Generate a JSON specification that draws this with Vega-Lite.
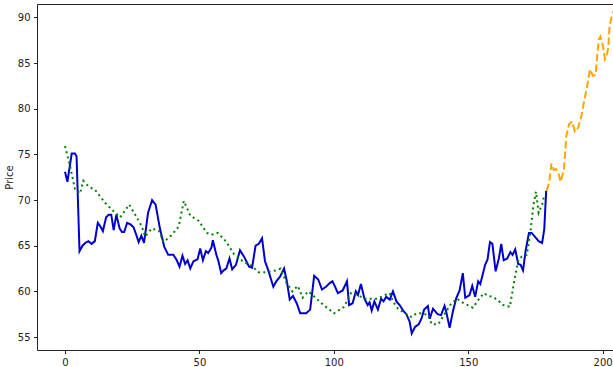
{
  "$schema": "https://vega.github.io/schema/vega-lite/v6.json",
  "autosize": "none",
  "width": 576,
  "height": 346,
  "padding": {"left": 37, "top": 4, "right": 0, "bottom": 17},
  "background": "white",
  "config": {
    "view": {"stroke": null},
    "axis": {
      "grid": false,
      "tickSize": 3.5,
      "tickColor": "#222",
      "domainColor": "#222",
      "labelFont": "DejaVu Sans",
      "labelFontSize": 10,
      "labelColor": "#222",
      "labelPadding": 3.5,
      "titleFont": "DejaVu Sans",
      "titleFontSize": 10,
      "titleFontWeight": "normal",
      "titleColor": "#222"
    }
  },
  "datasets": {
    "actual": [
      {"t": 0, "price": 73.1}, {"t": 0.9, "price": 72.0}, {"t": 2.5, "price": 75.1}, {"t": 3.7, "price": 75.1},
      {"t": 4.3, "price": 74.8}, {"t": 5.4, "price": 64.4}, {"t": 6.5, "price": 65.0}, {"t": 7.5, "price": 65.3},
      {"t": 8.7, "price": 65.5}, {"t": 9.9, "price": 65.2}, {"t": 11.1, "price": 65.5}, {"t": 12.2, "price": 67.5},
      {"t": 13.2, "price": 67.1}, {"t": 14.1, "price": 66.6}, {"t": 15.3, "price": 68.1}, {"t": 16.3, "price": 68.4},
      {"t": 17.2, "price": 68.4}, {"t": 18.1, "price": 66.7}, {"t": 19.1, "price": 68.4}, {"t": 20.3, "price": 66.9},
      {"t": 21.2, "price": 66.5}, {"t": 22.0, "price": 66.5}, {"t": 23.1, "price": 67.5}, {"t": 24.5, "price": 67.3},
      {"t": 25.5, "price": 67.0}, {"t": 26.5, "price": 66.2}, {"t": 27.4, "price": 65.4}, {"t": 28.4, "price": 66.1},
      {"t": 29.4, "price": 65.3}, {"t": 30.9, "price": 68.6}, {"t": 32.4, "price": 70.0}, {"t": 33.7, "price": 69.5},
      {"t": 35.3, "price": 66.9}, {"t": 36.9, "price": 64.9}, {"t": 38.4, "price": 64.0}, {"t": 40.3, "price": 64.0},
      {"t": 41.6, "price": 63.4}, {"t": 42.6, "price": 62.7}, {"t": 43.7, "price": 63.9}, {"t": 44.7, "price": 63.0},
      {"t": 45.6, "price": 63.4}, {"t": 46.6, "price": 62.5}, {"t": 47.8, "price": 63.3}, {"t": 49.3, "price": 63.5},
      {"t": 50.3, "price": 64.7}, {"t": 51.3, "price": 63.4}, {"t": 52.4, "price": 64.4}, {"t": 53.3, "price": 64.2},
      {"t": 54.5, "price": 64.8}, {"t": 55.0, "price": 65.6}, {"t": 56.3, "price": 64.0}, {"t": 57.0, "price": 63.4},
      {"t": 58.1, "price": 62.0}, {"t": 59.0, "price": 62.3}, {"t": 60.0, "price": 62.5}, {"t": 61.2, "price": 63.6},
      {"t": 62.2, "price": 62.4}, {"t": 63.6, "price": 62.9}, {"t": 65.1, "price": 64.5}, {"t": 66.6, "price": 63.8},
      {"t": 68.5, "price": 62.7}, {"t": 69.6, "price": 62.6}, {"t": 70.9, "price": 65.0}, {"t": 72.1, "price": 65.2},
      {"t": 73.3, "price": 65.8}, {"t": 74.4, "price": 63.3}, {"t": 75.5, "price": 62.4}, {"t": 77.5, "price": 60.5},
      {"t": 78.6, "price": 61.1}, {"t": 80.0, "price": 61.6}, {"t": 81.5, "price": 62.5}, {"t": 82.6, "price": 61.0},
      {"t": 83.6, "price": 59.1}, {"t": 84.8, "price": 59.5}, {"t": 86.2, "price": 58.7}, {"t": 87.5, "price": 57.6},
      {"t": 89.7, "price": 57.6}, {"t": 91.2, "price": 58.0}, {"t": 92.7, "price": 61.7}, {"t": 94.2, "price": 61.3},
      {"t": 95.6, "price": 60.2}, {"t": 97.1, "price": 60.5}, {"t": 98.5, "price": 60.9}, {"t": 99.5, "price": 61.1},
      {"t": 100.5, "price": 60.5}, {"t": 101.5, "price": 59.8}, {"t": 103.3, "price": 60.1}, {"t": 104.9, "price": 61.1},
      {"t": 105.7, "price": 58.5}, {"t": 107.0, "price": 58.7}, {"t": 108.2, "price": 60.0}, {"t": 109.0, "price": 59.6},
      {"t": 110.1, "price": 60.8}, {"t": 111.4, "price": 59.2}, {"t": 112.6, "price": 58.5}, {"t": 113.3, "price": 58.8},
      {"t": 114.1, "price": 57.9}, {"t": 115.1, "price": 58.9}, {"t": 116.4, "price": 58.0}, {"t": 117.6, "price": 59.2},
      {"t": 118.5, "price": 58.9}, {"t": 119.5, "price": 59.4}, {"t": 120.8, "price": 59.1}, {"t": 122.0, "price": 60.0},
      {"t": 123.3, "price": 58.9}, {"t": 124.5, "price": 58.5}, {"t": 125.8, "price": 57.9}, {"t": 127.0, "price": 57.5},
      {"t": 128.2, "price": 56.7}, {"t": 129.0, "price": 55.4}, {"t": 130.2, "price": 56.1}, {"t": 131.6, "price": 56.4},
      {"t": 132.6, "price": 57.0}, {"t": 133.6, "price": 58.0}, {"t": 135.0, "price": 58.4}, {"t": 135.7, "price": 57.0},
      {"t": 136.9, "price": 58.1}, {"t": 138.6, "price": 57.5}, {"t": 139.9, "price": 57.4}, {"t": 141.2, "price": 58.4},
      {"t": 141.8, "price": 57.8}, {"t": 143.1, "price": 56.0}, {"t": 144.3, "price": 57.8}, {"t": 145.5, "price": 59.2},
      {"t": 146.8, "price": 60.1}, {"t": 148.0, "price": 62.0}, {"t": 148.9, "price": 59.3}, {"t": 150.5, "price": 59.6},
      {"t": 151.5, "price": 60.6}, {"t": 152.6, "price": 59.4}, {"t": 153.7, "price": 61.1}, {"t": 154.5, "price": 60.8},
      {"t": 156.3, "price": 62.9}, {"t": 157.2, "price": 63.5}, {"t": 158.1, "price": 65.4}, {"t": 159.0, "price": 65.2},
      {"t": 160.2, "price": 62.2}, {"t": 161.4, "price": 63.6}, {"t": 162.3, "price": 65.2}, {"t": 163.2, "price": 63.4},
      {"t": 164.5, "price": 63.6}, {"t": 165.7, "price": 64.3}, {"t": 166.5, "price": 64.0}, {"t": 167.5, "price": 64.6},
      {"t": 168.6, "price": 63.0}, {"t": 169.5, "price": 62.9}, {"t": 170.4, "price": 62.3}, {"t": 171.4, "price": 64.5},
      {"t": 172.6, "price": 66.4}, {"t": 173.6, "price": 66.4}, {"t": 174.8, "price": 66.0}, {"t": 176.2, "price": 65.5},
      {"t": 177.5, "price": 65.3}, {"t": 178.3, "price": 66.8}, {"t": 179.0, "price": 71.0}
    ],
    "smoothed": [
      {"t": 0, "price": 75.9}, {"t": 1.9, "price": 73.7}, {"t": 3.7, "price": 71.2}, {"t": 5.6, "price": 70.7},
      {"t": 6.8, "price": 72.1}, {"t": 8.7, "price": 71.5}, {"t": 11.2, "price": 71.1}, {"t": 14.9, "price": 69.7},
      {"t": 18.0, "price": 68.8}, {"t": 20.5, "price": 68.1}, {"t": 23.9, "price": 69.5}, {"t": 26.1, "price": 68.4},
      {"t": 28.6, "price": 67.1}, {"t": 29.8, "price": 66.0}, {"t": 32.3, "price": 66.9}, {"t": 35.0, "price": 66.6},
      {"t": 36.7, "price": 65.4}, {"t": 39.8, "price": 66.2}, {"t": 42.3, "price": 67.1}, {"t": 44.2, "price": 69.9},
      {"t": 46.6, "price": 68.3}, {"t": 49.8, "price": 67.7}, {"t": 52.8, "price": 66.4}, {"t": 54.5, "price": 66.2},
      {"t": 56.8, "price": 66.4}, {"t": 59.8, "price": 65.5}, {"t": 62.8, "price": 64.1}, {"t": 66.5, "price": 63.2},
      {"t": 69.0, "price": 62.9}, {"t": 72.0, "price": 62.1}, {"t": 75.2, "price": 62.1}, {"t": 78.5, "price": 62.3},
      {"t": 80.2, "price": 62.5}, {"t": 82.3, "price": 61.0}, {"t": 84.6, "price": 60.0}, {"t": 86.6, "price": 60.6},
      {"t": 88.4, "price": 59.3}, {"t": 90.5, "price": 60.0}, {"t": 92.5, "price": 59.5}, {"t": 95.0, "price": 58.8},
      {"t": 97.5, "price": 58.2}, {"t": 100.1, "price": 57.6}, {"t": 103.8, "price": 58.3}, {"t": 106.4, "price": 59.8},
      {"t": 108.9, "price": 59.6}, {"t": 111.4, "price": 59.2}, {"t": 114.5, "price": 59.2}, {"t": 116.4, "price": 59.2},
      {"t": 118.9, "price": 59.6}, {"t": 120.8, "price": 59.8}, {"t": 122.0, "price": 58.9}, {"t": 123.9, "price": 58.1},
      {"t": 126.4, "price": 57.6}, {"t": 128.9, "price": 57.2}, {"t": 130.8, "price": 57.6}, {"t": 132.7, "price": 57.6},
      {"t": 135.1, "price": 57.4}, {"t": 136.4, "price": 56.4}, {"t": 138.9, "price": 56.4}, {"t": 141.4, "price": 57.6},
      {"t": 143.3, "price": 58.5}, {"t": 145.8, "price": 59.2}, {"t": 148.3, "price": 58.7}, {"t": 150.5, "price": 58.4},
      {"t": 151.7, "price": 58.2}, {"t": 153.6, "price": 59.0}, {"t": 155.8, "price": 59.8}, {"t": 157.5, "price": 59.5},
      {"t": 159.2, "price": 59.4}, {"t": 161.1, "price": 59.0}, {"t": 163.0, "price": 58.5}, {"t": 165.5, "price": 58.3},
      {"t": 167.4, "price": 61.6}, {"t": 168.7, "price": 63.4}, {"t": 169.9, "price": 63.8}, {"t": 171.8, "price": 64.0},
      {"t": 173.1, "price": 66.4}, {"t": 174.3, "price": 69.5}, {"t": 175.2, "price": 70.9}, {"t": 176.2, "price": 68.6},
      {"t": 177.5, "price": 69.5}, {"t": 178.3, "price": 70.6}
    ],
    "forecast": [
      {"t": 179.2, "price": 71.0}, {"t": 180.1, "price": 71.9}, {"t": 181.0, "price": 74.0}, {"t": 181.8, "price": 73.3},
      {"t": 182.7, "price": 73.4}, {"t": 183.5, "price": 73.0}, {"t": 184.4, "price": 72.0}, {"t": 185.6, "price": 73.3},
      {"t": 186.5, "price": 77.0}, {"t": 187.5, "price": 78.3}, {"t": 188.7, "price": 78.6}, {"t": 189.7, "price": 77.5},
      {"t": 190.9, "price": 77.9}, {"t": 192.1, "price": 79.2}, {"t": 193.4, "price": 81.2}, {"t": 194.6, "price": 83.0},
      {"t": 195.3, "price": 84.3}, {"t": 196.4, "price": 83.6}, {"t": 197.4, "price": 83.7}, {"t": 198.0, "price": 85.8},
      {"t": 198.6, "price": 87.6}, {"t": 199.2, "price": 87.9}, {"t": 200.1, "price": 86.9}, {"t": 200.9, "price": 85.4},
      {"t": 201.5, "price": 85.8}, {"t": 202.1, "price": 86.7}, {"t": 202.6, "price": 89.0}, {"t": 203.3, "price": 90.0},
      {"t": 204.5, "price": 91.0}
    ]
  },
  "resolve": {"axis": {"x": "independent"}},
  "layer": [
    {
      "data": {"name": "actual"},
      "mark": {"type": "line", "color": "#0000CD", "strokeWidth": 2, "clip": true},
      "encoding": {
        "x": {"field": "t", "type": "quantitative", "scale": {"domain": [-10.42, 203.87], "nice": false, "zero": false},
              "axis": {"orient": "bottom", "values": [0, 50, 100, 150, 200], "title": null}},
        "y": {"field": "price", "type": "quantitative", "scale": {"domain": [53.58, 91.46], "nice": false, "zero": false},
              "axis": {"values": [55, 60, 65, 70, 75, 80, 85, 90], "title": "Price", "titlePadding": 3}}
      }
    },
    {
      "data": {"name": "smoothed"},
      "mark": {"type": "line", "color": "green", "strokeWidth": 2, "strokeDash": [2, 3.3], "clip": true},
      "encoding": {
        "x": {"field": "t", "type": "quantitative",
              "axis": {"orient": "top", "labels": false, "ticks": false, "title": null}},
        "y": {"field": "price", "type": "quantitative"}
      }
    },
    {
      "data": {"name": "forecast"},
      "mark": {"type": "line", "color": "orange", "strokeWidth": 2, "strokeDash": [7.4, 3.2], "clip": true},
      "encoding": {
        "x": {"field": "t", "type": "quantitative", "axis": null},
        "y": {"field": "price", "type": "quantitative"}
      }
    }
  ]
}
